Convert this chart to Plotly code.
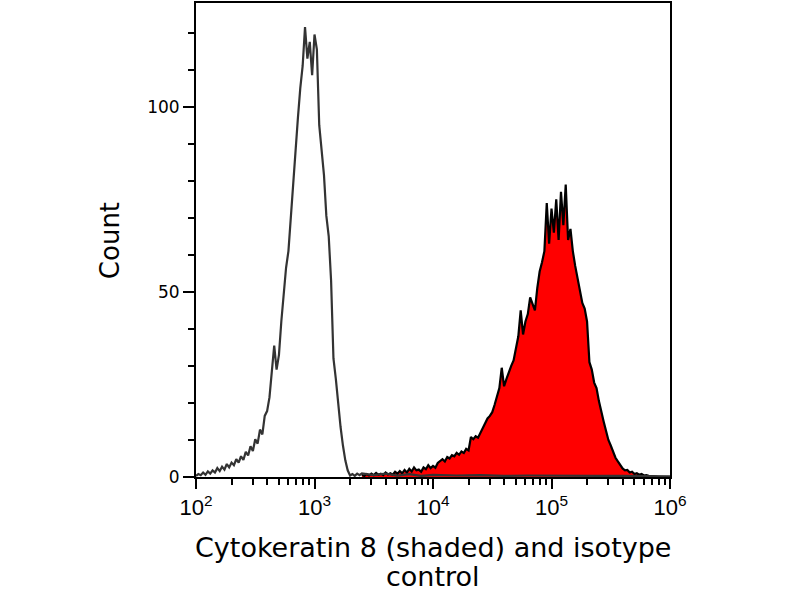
import plotly.graph_objects as go

# ---- data (log10 of fluorescence intensity, counts) ----
iso_exp = [2.00, 2.02, 2.04, 2.06, 2.08, 2.10, 2.12, 2.14, 2.16, 2.18,
           2.20, 2.22, 2.24, 2.26, 2.28, 2.30, 2.32, 2.34, 2.36, 2.38,
           2.40, 2.42, 2.44, 2.46, 2.48, 2.50, 2.52, 2.54, 2.56, 2.58,
           2.60, 2.62, 2.64, 2.66, 2.68, 2.70, 2.72, 2.74, 2.76, 2.78,
           2.80, 2.82, 2.84, 2.86, 2.88, 2.90, 2.92, 2.94, 2.96, 2.98,
           3.00, 3.02, 3.04, 3.06, 3.08, 3.10, 3.12, 3.14, 3.16, 3.18,
           3.20, 3.22, 3.24, 3.26, 3.28, 3.30, 3.32, 3.34, 3.36, 3.38,
           3.40, 3.50, 3.60, 3.70, 3.80, 3.90, 4.00, 4.20, 4.40, 4.60,
           4.80, 5.00, 5.20, 5.40, 5.60, 5.80, 6.00]
iso_count = [0.3, 0.8, 0.5, 1.2, 0.6, 1.5, 0.9, 1.8, 1.2, 2.4,
             1.6, 2.8, 2.0, 3.5, 2.6, 3.9, 3.2, 4.8, 3.9, 5.6,
             4.6, 6.8, 5.8, 8.3, 7.0, 10.2, 9.0, 12.8, 11.5, 16.5,
             17.8, 21.5, 28.5, 35.5, 29.0, 33.0, 42.0, 49.0, 56.5, 61.0,
             70.5, 78.0, 88.5, 97.0, 105.0, 111.0, 121.5, 113.0, 117.5, 108.5,
             119.5, 115.5, 95.0, 88.0, 81.5, 70.5, 65.0, 53.0, 32.0, 26.5,
             19.0, 13.5, 8.5, 4.5, 1.8, 0.4, 0.8, 0.3, 0.9, 0.5,
             1.0, 0.5, 0.9, 0.4, 0.8, 0.3, 0.6, 0.4, 0.5, 0.3,
             0.4, 0.3, 0.4, 0.3, 0.3, 0.2, 0.2]

ck8_exp = [3.40, 3.42, 3.44, 3.46, 3.48, 3.50, 3.52, 3.54, 3.56, 3.58,
           3.60, 3.62, 3.64, 3.66, 3.68, 3.70, 3.72, 3.74, 3.76, 3.78,
           3.80, 3.82, 3.84, 3.86, 3.88, 3.90, 3.92, 3.94, 3.96, 3.98,
           4.00, 4.02, 4.04, 4.06, 4.08, 4.10, 4.12, 4.14, 4.16, 4.18,
           4.20, 4.22, 4.24, 4.26, 4.28, 4.30, 4.32, 4.34, 4.36, 4.38,
           4.40, 4.42, 4.44, 4.46, 4.48, 4.50, 4.52, 4.54, 4.56, 4.58,
           4.60, 4.62, 4.64, 4.66, 4.68, 4.70, 4.72, 4.74, 4.76, 4.78,
           4.80, 4.82, 4.84, 4.86, 4.88, 4.90, 4.92, 4.94, 4.96, 4.98,
           5.00, 5.02, 5.04, 5.06, 5.08, 5.10, 5.12, 5.14, 5.16, 5.18,
           5.20, 5.22, 5.24, 5.26, 5.28, 5.30, 5.32, 5.34, 5.36, 5.38,
           5.40, 5.42, 5.44, 5.46, 5.48, 5.50, 5.52, 5.54, 5.56, 5.58,
           5.60, 5.62, 5.64, 5.66, 5.68, 5.70, 5.72, 5.74, 5.76, 5.78,
           5.80, 5.82, 5.84, 5.86, 5.88, 5.90]
ck8_count = [0.6, 0.3, 0.8, 0.4, 0.9, 0.5, 1.1, 0.6, 0.9, 0.5,
             1.2, 0.7, 1.0, 0.6, 1.4, 0.9, 1.6, 1.0, 1.9, 1.2,
             2.2, 1.5, 2.6, 1.8, 2.0, 1.4, 2.6, 2.1, 3.2, 2.4,
             3.0, 2.5, 3.8, 4.4, 4.8, 4.2, 5.4, 5.0, 5.9, 5.6,
             6.5, 6.0, 6.9, 6.5, 7.6, 7.2, 10.8, 10.2, 11.0, 10.6,
             12.0, 13.0, 14.5, 15.8, 16.5, 17.5, 19.5, 22.0, 24.0, 29.5,
             24.5, 26.5, 28.5, 30.0, 31.5, 35.0, 38.0, 45.0, 38.5, 42.0,
             44.0, 48.5, 47.0, 45.0, 51.0, 55.5, 58.0, 61.0, 74.0, 63.0,
             72.5, 66.0, 75.0, 64.0, 77.0, 68.0, 79.0, 64.0, 67.0, 61.0,
             57.0, 53.5, 50.0, 47.0, 45.5, 42.0, 31.0, 29.0, 25.5, 24.0,
             20.5, 17.5, 15.0, 12.5, 10.0, 8.5, 6.8, 5.2, 4.2, 3.3,
             2.3, 1.8, 1.9, 1.2, 1.4, 0.8, 1.0, 0.6, 0.8, 0.4,
             0.5, 0.3, 0.3, 0.2, 0.1, 0.0]

x_major = [1e2, 1e3, 1e4, 1e5, 1e6]
x_major_text = ["10<sup>2</sup>", "10<sup>3</sup>", "10<sup>4</sup>",
                "10<sup>5</sup>", "10<sup>6</sup>"]
y_major = [0, 50, 100]
y_minor = [10, 20, 30, 40, 60, 70, 80, 90, 110, 120]

x_title_line1 = "Cytokeratin 8 (shaded) and isotype"
x_title_line2 = "control"
y_title = "Count"

x_minor = [m * d for d in (1e2, 1e3, 1e4, 1e5) for m in range(2, 10)]

fig = go.Figure()
fig.add_trace(go.Scatter(
    x=[10 ** e for e in ck8_exp], y=ck8_count, mode="lines",
    fill="tozeroy", fillcolor="#ff0000",
    line=dict(color="#000000", width=2.2), showlegend=False))
fig.add_trace(go.Scatter(
    x=[10 ** e for e in iso_exp], y=iso_count, mode="lines",
    line=dict(color="#333333", width=2.2), showlegend=False))

axis_common = dict(showline=True, linecolor="black", linewidth=2, mirror=True,
                   showgrid=False, zeroline=False, ticks="outside",
                   tickcolor="black", tickwidth=2)

fig.update_xaxes(type="log", range=[2, 6], tickmode="array",
                 tickvals=x_major, ticktext=x_major_text, ticklen=10,
                 tickfont=dict(family="Liberation Sans", size=22, color="black"),
                 minor=dict(tickmode="array", tickvals=x_minor, ticks="outside",
                            ticklen=6, tickwidth=2, tickcolor="black"),
                 **axis_common)
fig.update_yaxes(range=[0, 128], tickmode="array", tickvals=y_major,
                 ticklen=11,
                 tickfont=dict(family="DejaVu Sans", size=17, color="black"),
                 minor=dict(tickmode="array", tickvals=y_minor, ticks="outside",
                            ticklen=6, tickwidth=2, tickcolor="black"),
                 **axis_common)

title_font = dict(family="DejaVu Sans", size=27, color="black")
fig.add_annotation(text=x_title_line1, xref="paper", yref="paper",
                   x=0.5, y=-0.149, xanchor="center", yanchor="middle",
                   showarrow=False, font=title_font)
fig.add_annotation(text=x_title_line2, xref="paper", yref="paper",
                   x=0.5, y=-0.210, xanchor="center", yanchor="middle",
                   showarrow=False, font=title_font)
fig.add_annotation(text=y_title, xref="paper", yref="paper",
                   x=-0.181, y=0.498, xanchor="center", yanchor="middle",
                   textangle=-90, showarrow=False,
                   font=dict(family="DejaVu Sans", size=26, color="black"))

fig.update_layout(width=800, height=600, plot_bgcolor="white",
                  paper_bgcolor="white",
                  margin=dict(l=196, r=130, t=1, b=123))

fig.write_html("out.html", config={"displayModeBar": False},
               post_script="document.body.style.margin='0';")
